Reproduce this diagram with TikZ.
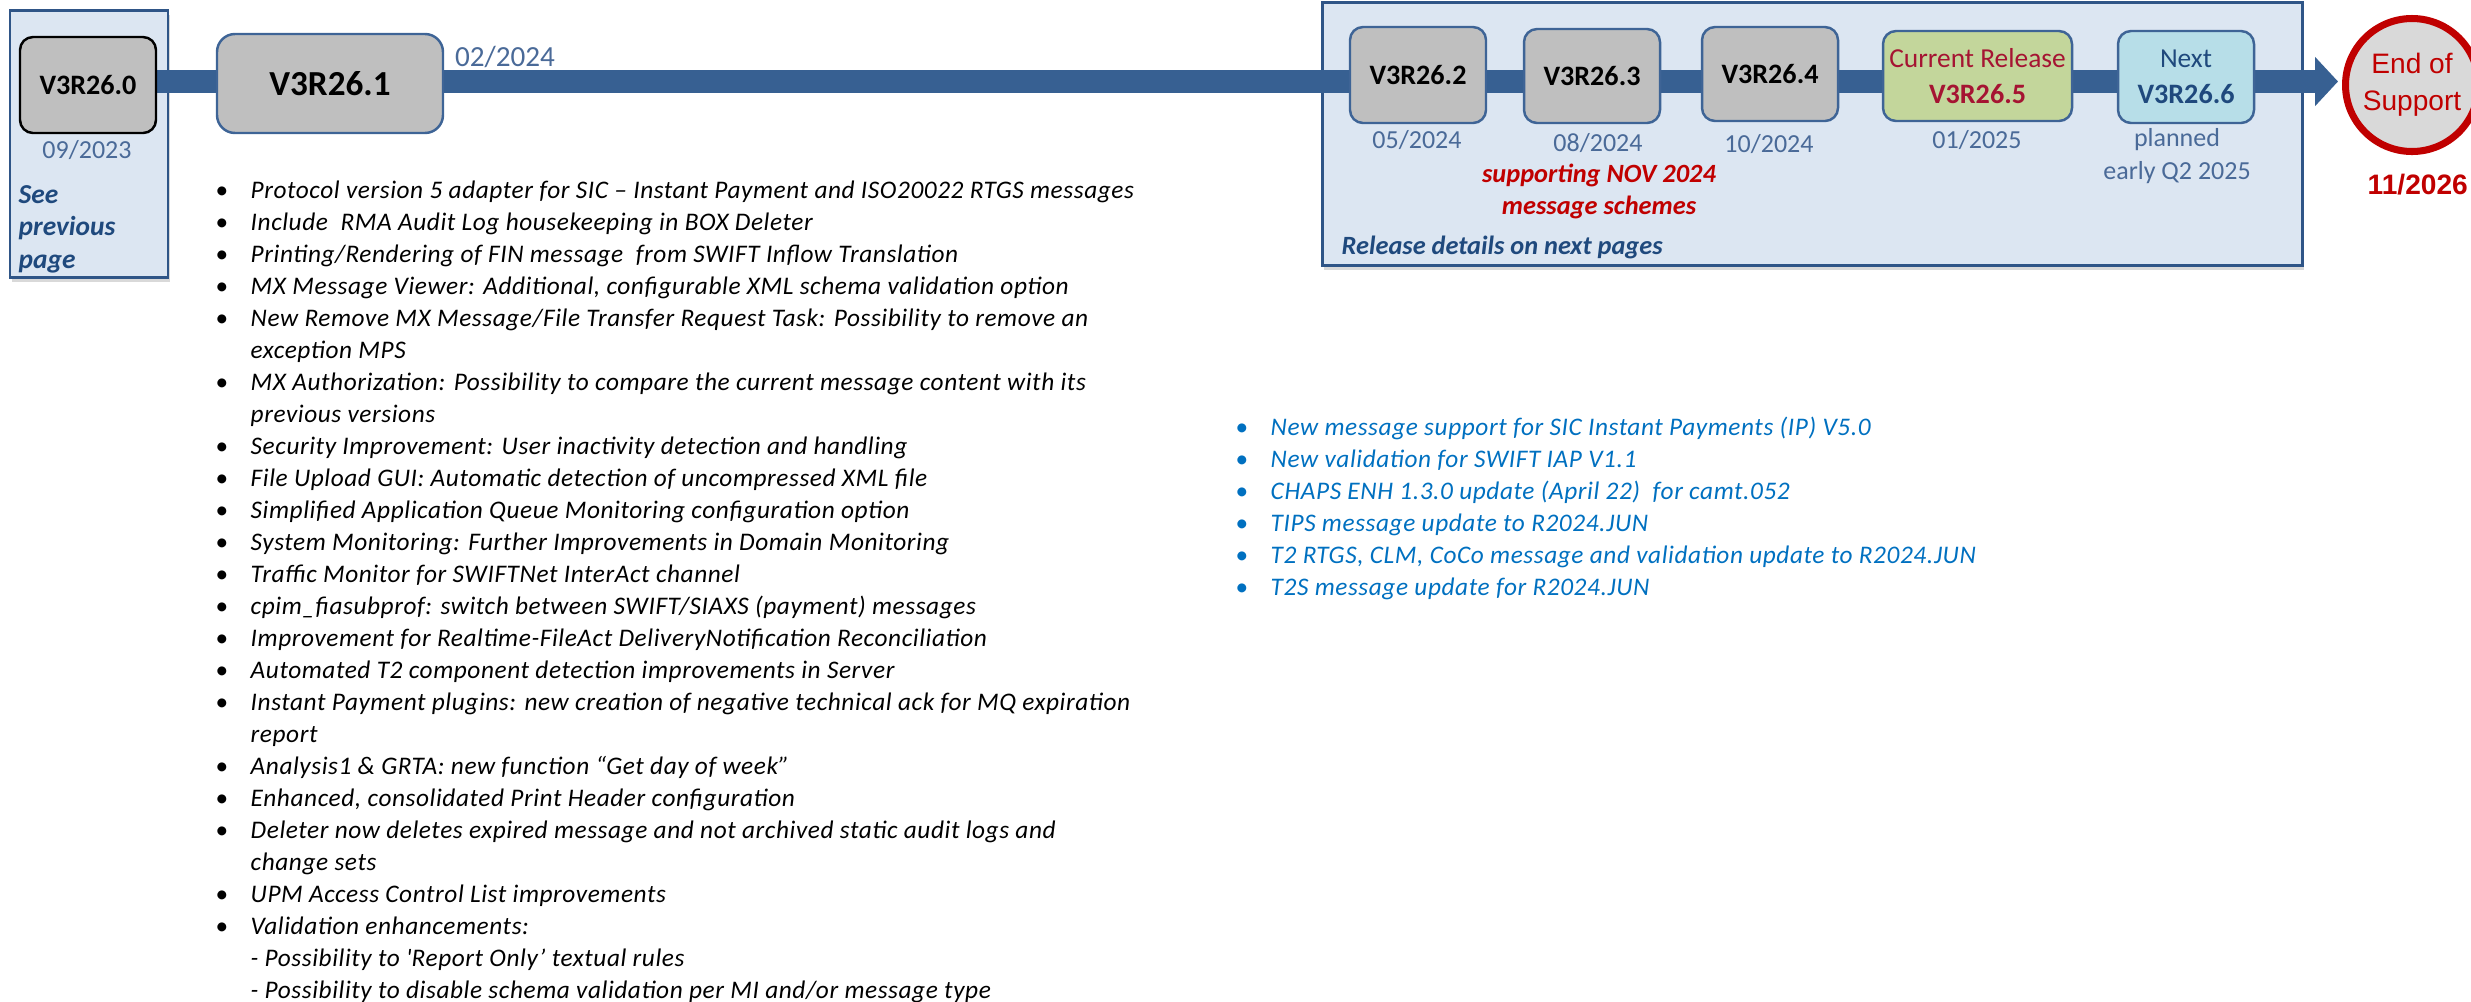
\documentclass[tikz,border=0pt]{standalone}
\usepackage{fontspec}
\setmainfont{Carlito}
\newfontfamily\listfont[LetterSpace=2.3]{Carlito}
\newfontfamily\arialfont{Liberation Sans}
\usetikzlibrary{arrows.meta, shadows}

\definecolor{barblue}{RGB}{55,96,146}
\definecolor{panelfill}{RGB}{220,230,242}
\definecolor{panelline}{RGB}{47,85,135}
\definecolor{boxgray}{RGB}{191,191,191}
\definecolor{boxline}{RGB}{62,100,150}
\definecolor{dateblue}{RGB}{74,106,152}
\definecolor{navy}{RGB}{31,73,125}
\definecolor{eosred}{RGB}{192,0,0}
\definecolor{eosgray}{RGB}{217,217,217}
\definecolor{currentred}{RGB}{165,20,50}
\definecolor{currentgreen}{RGB}{195,214,155}
\definecolor{nextaqua}{RGB}{183,222,232}
\definecolor{listblue}{RGB}{0,112,192}

\newcommand{\itembullet}{{\upshape\textbullet}}

\pgfdeclarelayer{panels}
\pgfdeclarelayer{track}
\pgfsetlayers{panels,track,main}

\begin{document}
\begin{tikzpicture}
            [>=Triangle, line join=round,
             release/.style={shape=rectangle, draw=boxline, fill=boxgray, line width=0.7pt, rounded corners=0.13cm, minimum width=1.36cm, minimum height=0.96cm, inner sep=0pt, align=center, font=\fontsize{8}{10.2}\selectfont\bfseries},
             date/.style={text=dateblue, inner sep=0pt, align=center, font=\fontsize{7.4}{9.4}\selectfont},
             panel/.style={draw=panelline, fill=panelfill, line width=0.85pt, drop shadow={shadow xshift=0.02cm, shadow yshift=-0.05cm, opacity=0.3}},
             track/.style={color=barblue, line width=0.23cm, -{Triangle[width=0.48cm, length=0.23cm]}},
             items/.style={anchor=north west, inner sep=0pt, font=\listfont\fontsize{7.2}{9.1}\selectfont\itshape},
             note/.style={inner sep=0pt, align=left, font=\fontsize{7.5}{9.1}\selectfont\bfseries\itshape}]
            \useasboundingbox (0,0) rectangle (24.71,-10.01);

            \begin{pgfonlayer}{panels}
            \path[panel] (0.10,-0.10) rectangle (1.68,-2.77);
            \path[panel] (13.22,-0.02) rectangle (23.02,-2.65);
            \end{pgfonlayer}

            \node[release, draw=black] (v0) at (0.88,-0.85) {V3R26.0};
            \node[release, minimum width=2.26cm, minimum height=0.99cm, rounded corners=0.18cm, font=\fontsize{10}{12}\selectfont\bfseries] (v1) at (3.30,-0.835) {V3R26.1};
            \node[release] (v2) at (14.18,-0.75) {V3R26.2};
            \node[release, minimum height=0.94cm] (v3) at (15.92,-0.76) {V3R26.3};
            \node[release, minimum height=0.94cm] (v4) at (17.70,-0.74) {V3R26.4};
            \node[release, fill=currentgreen, minimum width=1.89cm, minimum height=0.90cm, text=currentred] (v5) at (19.775,-0.76) {{\mdseries\fontsize{7.8}{10.2}\selectfont Current Release}\\V3R26.5};
            \node[release, fill=nextaqua, minimum height=0.92cm, text=navy] (v6) at (21.86,-0.77) {{\mdseries\fontsize{7.8}{10.2}\selectfont Next}\\V3R26.6};
            \node[shape=circle, draw=eosred, fill=eosgray, line width=2pt, minimum size=1.33cm, inner sep=0pt, align=center, text=eosred, font=\arialfont\fontsize{8}{10.5}\selectfont] (eos) at (24.12,-0.85) {End of\\Support};

            \node[date] (d0) at (0.87,-1.50) {09/2023};
            \node[date, font=\fontsize{8.3}{10}\selectfont] (d1) at (5.05,-0.57) {02/2024};
            \node[date] (d2) at (14.17,-1.40) {05/2024};
            \node[date] (d3) at (15.98,-1.43) {08/2024};
            \node[date] (d4) at (17.69,-1.44) {10/2024};
            \node[date] (d5) at (19.77,-1.40) {01/2025};
            \node[date] (d6) at (21.77,-1.565) {planned\\early Q2 2025};
            \node[anchor=west, inner sep=0pt, text=eosred, font=\arialfont\fontsize{8}{10}\selectfont\bfseries] (eosdate) at (23.67,-1.85) {11/2026};

            \node[note, anchor=west, text=navy, font=\fontsize{7.8}{9.2}\selectfont\bfseries\itshape] (seeprev) at (0.18,-2.29) {See\\previous\\page};
            \node[note, anchor=west, text=navy] (details) at (13.41,-2.47) {Release details on next pages};
            \node[note, align=center, text=eosred] (nov) at (15.99,-1.91) {supporting NOV 2024\\message schemes};

            \coordinate (bartip) at (23.38,-0.815);
            \begin{pgfonlayer}{track}
            \path (v0.east |- bartip) edge [track] (bartip);
            \end{pgfonlayer}

            \node[items] (changes) at (2.15,-1.756) {\begin{tabular}{@{}p{0.35cm}@{}l@{}}
                \itembullet & Protocol version 5 adapter for SIC – Instant Payment and ISO20022 RTGS messages\\
                \itembullet & Include\ \ RMA Audit Log housekeeping in BOX Deleter\\
                \itembullet & Printing/Rendering of FIN message\ \ from SWIFT Inflow Translation\\
                \itembullet & MX Message Viewer: Additional, configurable XML schema validation option\\
                \itembullet & New Remove MX Message/File Transfer Request Task: Possibility to remove an\\
                            & exception MPS\\
                \itembullet & MX Authorization: Possibility to compare the current message content with its\\
                            & previous versions\\
                \itembullet & Security Improvement: User inactivity detection and handling\\
                \itembullet & File Upload GUI: Automatic detection of uncompressed XML file\\
                \itembullet & Simplified Application Queue Monitoring configuration option\\
                \itembullet & System Monitoring: Further Improvements in Domain Monitoring\\
                \itembullet & Traffic Monitor for SWIFTNet InterAct channel\\
                \itembullet & cpim\_fiasubprof: switch between SWIFT/SIAXS (payment) messages\\
                \itembullet & Improvement for Realtime-FileAct DeliveryNotification Reconciliation\\
                \itembullet & Automated T2 component detection improvements in Server\\
                \itembullet & Instant Payment plugins: new creation of negative technical ack for MQ expiration\\
                            & report\\
                \itembullet & Analysis1 \& GRTA: new function “Get day of week”\\
                \itembullet & Enhanced, consolidated Print Header configuration\\
                \itembullet & Deleter now deletes expired message and not archived static audit logs and\\
                            & change sets\\
                \itembullet & UPM Access Control List improvements\\
                \itembullet & Validation enhancements:\\
                            & - Possibility to \textquotesingle Report Only’ textual rules\\
                            & - Possibility to disable schema validation per MI and/or message type
            \end{tabular}};

            \node[items, text=listblue] (updates) at (12.35,-4.126) {\begin{tabular}{@{}p{0.35cm}@{}l@{}}
                \itembullet & New message support for SIC Instant Payments (IP) V5.0\\
                \itembullet & New validation for SWIFT IAP V1.1\\
                \itembullet & CHAPS ENH 1.3.0 update (April 22)\ \ for camt.052\\
                \itembullet & TIPS message update to R2024.JUN\\
                \itembullet & T2 RTGS, CLM, CoCo message and validation update to R2024.JUN\\
                \itembullet & T2S message update for R2024.JUN
            \end{tabular}};
        \end{tikzpicture}
\end{document}
